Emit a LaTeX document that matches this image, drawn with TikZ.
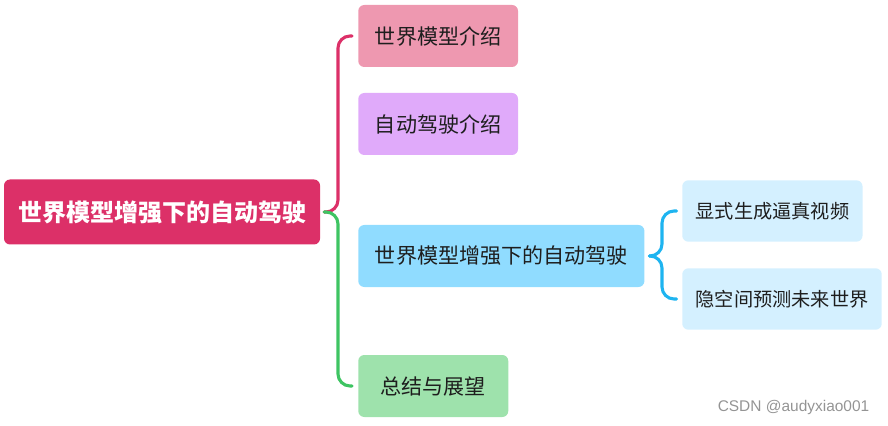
\documentclass[tikz,border=0pt]{standalone}
\usepackage{fontspec}
\setmainfont{Liberation Sans}
\newfontfamily\cjk{Noto Sans CJK SC}
\usepackage{xcolor}
\definecolor{mroot}{RGB}{220,48,104}
\definecolor{mpink}{RGB}{238,152,176}
\definecolor{mlilac}{RGB}{224,170,250}
\definecolor{mblue}{RGB}{144,220,255}
\definecolor{mgreen}{RGB}{158,226,172}
\definecolor{msky}{RGB}{212,240,255}
\definecolor{bgreen}{RGB}{62,196,98}
\definecolor{bblue}{RGB}{30,180,240}
\definecolor{mtext}{RGB}{30,30,30}
\tikzset{
  rootbox/.style={fill=mroot,rounded corners=4.5pt,minimum width=237pt,minimum height=48.75pt,
                  text=white,font=\cjk\bfseries\fontsize{18pt}{20pt}\selectfont},
  topicbox/.style={rounded corners=4.5pt,minimum height=46.5pt,minimum width=112.5pt,inner xsep=12.5pt,
                  anchor=west,text=mtext,font=\cjk\fontsize{15.8pt}{18pt}\selectfont},
  subbox/.style={fill=msky,rounded corners=4.5pt,minimum height=46pt,inner xsep=10pt,
                  anchor=west,text=mtext,font=\cjk\fontsize{14.4pt}{17pt}\selectfont},
  brace/.style={line width=2.3pt,rounded corners=9pt,line cap=round}
}
\begin{document}
\begin{tikzpicture}[x=0.75pt,y=0.75pt]
  \useasboundingbox (0,0) rectangle (888,425);
  % root
  \node[rootbox] (root) at (162,213) {世界模型增强下的自动驾驶};
  % first level
  \node[topicbox,fill=mpink] (intro) at (358,389) {世界模型介绍};
  \node[topicbox,fill=mlilac] (auto) at (358,301) {自动驾驶介绍};
  \node[topicbox,fill=mblue] (main) at (358,169) {世界模型增强下的自动驾驶};
  \node[topicbox,fill=mgreen] (sum) at (358,39) {总结与展望};
  % second level
  \node[subbox] (gen) at (682,214) {显式生成逼真视频};
  \node[subbox] (latent) at (682,126) {隐空间预测未来世界};
  % brackets
  \draw[brace,mroot] ([xshift=3pt]root.east) -| ([xshift=-15pt]intro.west) -- ([xshift=-4.5pt]intro.west);
  \draw[brace,bgreen] ([xshift=3pt]root.east) -| ([xshift=-15pt]sum.west) -- ([xshift=-4.5pt]sum.west);
  \draw[brace,bblue] ([xshift=3.5pt]main.east) -| ([xshift=-15pt]gen.west) -- ([xshift=-4pt]gen.west);
  \draw[brace,bblue] ([xshift=3.5pt]main.east) -| ([xshift=-15pt]latent.west) -- ([xshift=-4pt]latent.west);
  % watermark
  \node[anchor=base east,text=black!42,font=\fontsize{11.6pt}{13pt}\selectfont] (mark) at (874,14) {CSDN @audyxiao001};
\end{tikzpicture}
\end{document}
